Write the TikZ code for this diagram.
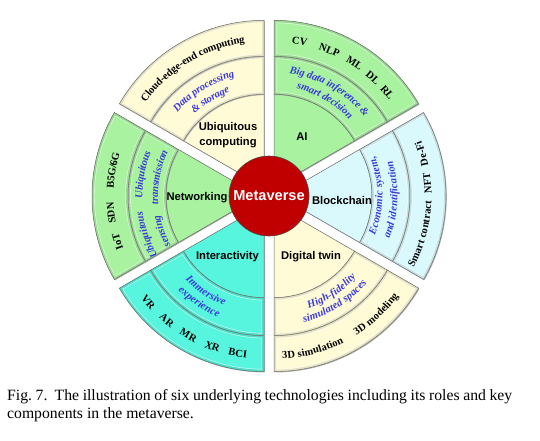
\documentclass[tikz,border=0pt]{standalone}
\usepackage{fontspec}
\setmainfont{Liberation Serif}
\setsansfont{Liberation Sans}
\usepackage{tikz}
\usetikzlibrary{calc,decorations.text}
\definecolor{CreamFill}{RGB}{255,251,214}
\definecolor{MintFill}{RGB}{168,242,160}
\definecolor{IceFill}{RGB}{218,249,252}
\definecolor{AquaFill}{RGB}{88,245,222}
\definecolor{CoreRed}{RGB}{192,0,0}
\definecolor{RoleBlue}{RGB}{58,58,218}
\newcommand{\keyfont}{\rmfamily\bfseries\fontsize{10.5}{12}\selectfont}
\newcommand{\rolefont}{\rmfamily\bfseries\itshape\fontsize{10.6}{12}\selectfont\color{RoleBlue}}
\newcommand{\bandpath}[5]{($(#1)+(#2:#4)$) arc[start angle=#2,end angle=#3,radius=#4] -- ($(#1)+(#3:#5)$) arc[start angle=#3,end angle=#2,radius=#5] -- cycle}
\newcommand{\pieslice}[5]{\fill[piece shadow] (#1) -- ($(#1)+(#2:#4)$) arc[start angle=#2,end angle=#3,radius=#4] -- cycle;
  \filldraw[piece edge,fill=#5] (#1) -- ($(#1)+(#2:#4)$) arc[start angle=#2,end angle=#3,radius=#4] -- cycle;}
\newcommand{\ringband}[6]{\fill[piece shadow] \bandpath{#1}{#2}{#3}{#4}{#5};
  \begin{scope}
    \clip \bandpath{#1}{#2}{#3}{#4}{#5};
    \fill[fill=#6] \bandpath{#1}{#2}{#3}{#4}{#5};
    \draw[line width=5.4pt,draw=#6!40!white] \bandpath{#1}{#2}{#3}{#4}{#5};
    \draw[line width=4pt,draw=#6!90!black] \bandpath{#1}{#2}{#3}{#4}{#5};
  \end{scope}
  \draw[piece edge] \bandpath{#1}{#2}{#3}{#4}{#5};}
\newcommand{\arctext}[6]{\path[decorate,decoration={text along path,text align=center,raise=-3.5pt,text={|#5|#6}}]
  ($(#1)+({#3-#4*40}:#2)$) arc[start angle={#3-#4*40},end angle={#3+#4*40},radius=#2];}

\begin{document}
\begin{tikzpicture}[x=1pt,y=1pt,
  piece edge/.style={draw=black!60,line width=0.5pt},
  piece shadow/.style={fill=black!30,transform canvas={xshift=0.8pt,yshift=-0.8pt}},
  roletext/.style={font=\sffamily\bfseries\fontsize{11.2}{15}\selectfont,align=center,inner sep=1pt},
  core/.style={circle,draw=black!70,line width=0.6pt,fill=CoreRed,minimum size=80pt,inner sep=0pt,
    text=white,font=\sffamily\bfseries\fontsize{14.6}{16}\selectfont},
  caption/.style={font=\rmfamily\fontsize{15.7}{18}\selectfont,text width=505pt,align=justify,inner sep=0pt}]
\useasboundingbox (-269,196) rectangle (271,-244);
\coordinate (O) at (0,0);
% six sectors, pulled apart along their bisectors
\foreach \nm/\ang in {UC/120,AI/60,BC/0,DT/-60,IA/-120,NW/180}{\coordinate (c\nm) at (\ang:10);}
\foreach \nm/\ang/\col in {UC/120/CreamFill,AI/60/MintFill,BC/0/IceFill,DT/-60/CreamFill,IA/-120/AquaFill,NW/180/MintFill}{
  \pieslice{c\nm}{\ang-30}{\ang+30}{93}{\col}
  \ringband{c\nm}{\ang-30}{\ang+30}{93}{131}{\col}
  \ringband{c\nm}{\ang-30}{\ang+30}{131}{167}{\col}
}
\node[core] (meta) at (O) {Metaverse};
% roles
\node[roletext] (ucname) at (-41,60.5) {Ubiquitous\\computing};
\node[roletext] (ainame) at (33,59) {AI};
\node[roletext] (bcname) at (73,-4) {Blockchain};
\node[roletext] (dtname) at (42,-61) {Digital twin};
\node[roletext] (ianame) at (-41.5,-61) {Interactivity};
\node[roletext] (nwname) at (-72,-2) {Networking};
% ubiquitous computing
\arctext{cUC}{149}{121}{-1}{\keyfont}{Cloud-edge-end computing}
\arctext{cUC}{118}{122}{-1}{\rolefont}{Data processing}
\arctext{cUC}{104.5}{121.5}{-1}{\rolefont}{{\&} storage}
% AI
\foreach \w/\a in {CV/80,NLP/68,ML/57,DL/48,RL/40}{\arctext{cAI}{148}{\a}{-1}{\keyfont}{\w}}
\arctext{cAI}{118}{60}{-1}{\rolefont}{Big data inference {\&}}
\arctext{cAI}{104.5}{59.6}{-1}{\rolefont}{smart decision}
% blockchain
\arctext{cBC}{100}{0}{1}{\rolefont}{Economic system,}
\arctext{cBC}{115}{-2}{1}{\rolefont}{and identification}
\foreach \w/\a in {Smart contract/-15,NFT/5,De-Fi/16.5}{\arctext{cBC}{149}{\a}{1}{\keyfont}{\w}}
% digital twin
\arctext{cDT}{106}{-56.5}{1}{\rolefont}{High-fidelity}
\arctext{cDT}{118}{-58}{1}{\rolefont}{simulated spaces}
\foreach \w/\a in {3D simulation/-75,3D modeling/-47}{\arctext{cDT}{151}{\a}{1}{\keyfont}{\w}}
% interactivity
\arctext{cIA}{105}{236}{1}{\rolefont}{Immersive}
\arctext{cIA}{118}{236.4}{1}{\rolefont}{experience}
\foreach \w/\a in {VR/220,AR/230,MR/240,XR/250,BCI/260}{\arctext{cIA}{151}{\a}{1}{\keyfont}{\w}}
% networking
\arctext{cNW}{120}{169.5}{-1}{\rolefont}{Ubiquitous}
\arctext{cNW}{104.5}{169.5}{-1}{\rolefont}{transmission}
\arctext{cNW}{121}{199}{-1}{\rolefont}{Ubiquitous}
\arctext{cNW}{104.5}{200}{-1}{\rolefont}{sensing}
\foreach \w/\a in {{B5G/6G}/170,SDN/186.5,IoT/198}{\arctext{cNW}{149}{\a}{-1}{\keyfont}{\w}}
% caption
\node[caption,anchor=north west] (cap) at (-262,-193) {Fig.~7.\ \ The illustration of six underlying technologies including its roles and key\linebreak components in the metaverse.};
\end{tikzpicture}
\end{document}
